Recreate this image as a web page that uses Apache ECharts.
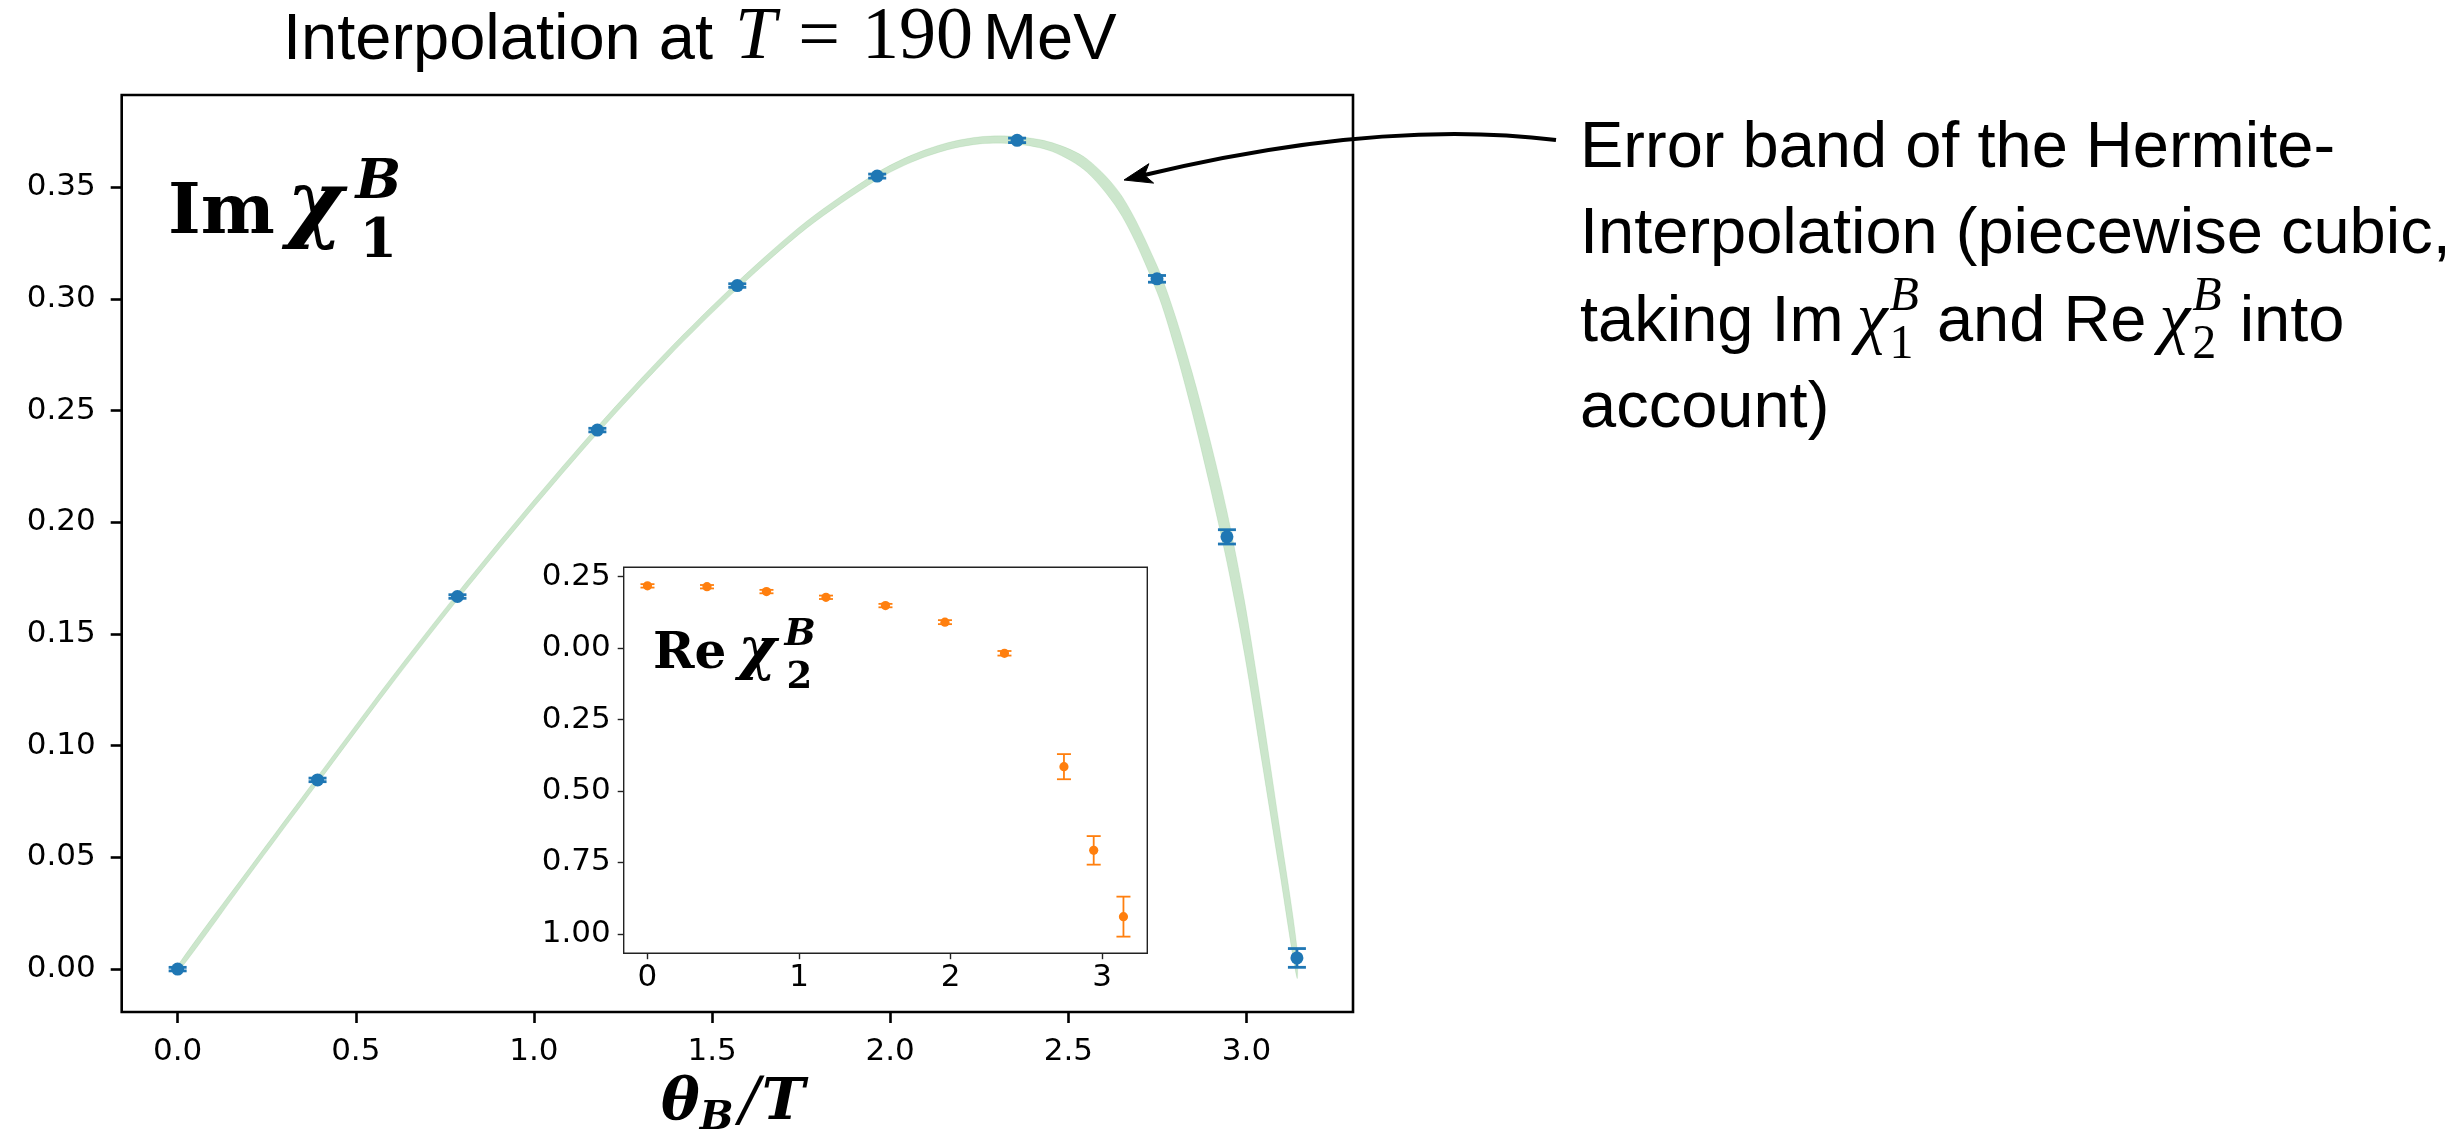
<!DOCTYPE html>
<html><head><meta charset="utf-8">
<script src="https://cdn.jsdelivr.net/npm/echarts@6/dist/echarts.min.js"></script>
<style>html,body{margin:0;padding:0;background:#fff}#c{width:2463px;height:1138px}</style>
</head><body><div id="c"></div>
<script>
// ---- data ----
const thetaPoints = [0, 0.3927, 0.7854, 1.1781, 1.5708, 1.9635, 2.3562, 2.7489, 2.9452, 3.1416];
const imChi1      = [0.000, 0.0847, 0.1668, 0.2413, 0.3060, 0.3550, 0.3710, 0.3090, 0.1935, 0.0050];
const imChi1Err   = [0.0008, 0.0008, 0.0008, 0.0008, 0.0008, 0.0009, 0.0010, 0.0015, 0.0032, 0.0042];
const reChi2      = [0.218, 0.215, 0.198, 0.178, 0.149, 0.091, -0.018, -0.415, -0.708, -0.940];
const reChi2Err   = [0.006, 0.006, 0.006, 0.006, 0.006, 0.007, 0.008, 0.044, 0.050, 0.070];
const bandTheta   = [0, 0.196, 0.3927, 0.589, 0.7854, 0.982, 1.1781, 1.374, 1.5708, 1.767, 1.9635, 2.0617, 2.160, 2.258, 2.3562, 2.4544, 2.5525, 2.6507, 2.7489, 2.798, 2.847, 2.8962, 2.9452, 2.9943, 3.043, 3.0925, 3.1416];
const bandCenter  = [0, 0.0425, 0.0847, 0.1266, 0.1668, 0.2050, 0.2413, 0.2751, 0.3060, 0.3334, 0.3550, 0.3629, 0.3683, 0.3711, 0.3710, 0.3680, 0.3597, 0.3415, 0.3090, 0.2860, 0.2585, 0.2274, 0.1935, 0.1531, 0.1049, 0.0540, 0.0030];
const bandHalf    = [0.0016, 0.0016, 0.0016, 0.0016, 0.0016, 0.0016, 0.0016, 0.0016, 0.0016, 0.0016, 0.0016, 0.0016, 0.0016, 0.0016, 0.0017, 0.0020, 0.0030, 0.0045, 0.0060, 0.0075, 0.0090, 0.0105, 0.0115, 0.0120, 0.0118, 0.0100, 0.0070];
const mainXTicks  = [0, 0.5, 1.0, 1.5, 2.0, 2.5, 3.0];
const mainYTicks  = [0, 0.05, 0.10, 0.15, 0.20, 0.25, 0.30, 0.35];
const insetXTicks = [0, 1, 2, 3];
const insetYTicks = [0.25, 0, -0.25, -0.5, -0.75, -1.0];

// ---- text helpers ----
const mctx = document.createElement('canvas').getContext('2d');
function measure(font, t){ mctx.font = font; return mctx.measureText(t).width; }
function run(x0, base, pieces, align){
  let x = 0, prevStart = 0;
  const placed = [];
  for (const p of pieces){
    const font = (p.style||'normal') + ' ' + (p.weight||'normal') + ' ' + p.size + 'px ' + p.family;
    const wd = measure(font, p.t);
    let px = (p.stack ? prevStart : x) + (p.dx||0);
    placed.push({t:p.t, font:font, px:px, y: base + (p.dy||0) - 0.35*p.size});
    if (p.stack) x = Math.max(x, px + wd); else { prevStart = px; x = px + wd; }
  }
  const off = align === 'center' ? x0 - x/2 : x0;
  return placed.map(q => ({type:'text', z:100, silent:true,
    style:{text:q.t, x:off+q.px, y:q.y, font:q.font, fill:'#000', textAlign:'left', textVerticalAlign:'middle'}}));
}
const SANS = '"Liberation Sans", Arial, sans-serif';
const SERIF = '"Liberation Serif", serif';
const DJS = '"DejaVu Serif", serif';

const texts = [].concat(
  run(283, 64, [
    {t:'Interpolation at ', size:65, family:SANS},
    {t:'T', size:74, family:SERIF, style:'italic', dx:4},
    {t:'=', size:74, family:SERIF, dx:22},
    {t:'190', size:74, family:SERIF, dx:22},
    {t:'MeV', size:65, family:SANS, dx:10}
  ]),
  run(168, 239, [
    {t:'Im', size:70, family:DJS, weight:'bold'},
    {t:'χ', size:86, family:DJS, weight:'bold', style:'italic', dx:12},
    {t:'B', size:54, family:DJS, weight:'bold', style:'italic', dy:-36, dx:12},
    {t:'1', size:54, family:DJS, weight:'bold', dy:23, dx:4, stack:true}
  ]),
  run(653, 673, [
    {t:'Re', size:50, family:DJS, weight:'bold'},
    {t:'χ', size:58, family:DJS, weight:'bold', style:'italic', dx:12},
    {t:'B', size:37, family:DJS, weight:'bold', style:'italic', dy:-25, dx:8},
    {t:'2', size:37, family:DJS, weight:'bold', dy:18, dx:2, stack:true}
  ]),
  run(661, 1124, [
    {t:'θ', size:58, family:DJS, weight:'bold', style:'italic'},
    {t:'B', size:40, family:DJS, weight:'bold', style:'italic', dy:9},
    {t:'/', size:60, family:DJS, style:'italic', dx:6},
    {t:'T', size:58, family:DJS, weight:'bold', style:'italic', dx:2}
  ]),
  run(1580, 172, [{t:'Error band of the Hermite-', size:65, family:SANS}]),
  run(1580, 258, [{t:'Interpolation (piecewise cubic,', size:65, family:SANS}]),
  run(1580, 346, [
    {t:'taking Im', size:65, family:SANS},
    {t:'χ', size:70, family:SERIF, style:'italic', dx:13},
    {t:'B', size:48, family:SERIF, style:'italic', dy:-32, dx:2},
    {t:'1', size:48, family:SERIF, dy:16, stack:true},
    {t:' and Re', size:65, family:SANS, dx:0},
    {t:'χ', size:70, family:SERIF, style:'italic', dx:13},
    {t:'B', size:48, family:SERIF, style:'italic', dy:-32, dx:2},
    {t:'2', size:48, family:SERIF, dy:16, stack:true},
    {t:' into', size:65, family:SANS, dx:0}
  ]),
  run(1580, 432, [{t:'account)', size:65, family:SANS}])
);

// arrow (annotation)
const arrow = [
  {type:'bezierCurve', z:100, silent:true, shape:{x1:1556, y1:140, x2:1140, y2:176, cpx1:1380, cpy1:118},
   style:{stroke:'#000', lineWidth:4, fill:null}},
  {type:'polygon', z:100, silent:true, shape:{points:[[1124,180],[1153.6,183.1],[1144.4,175.1],[1148.9,163.7]]},
   style:{fill:'#000', stroke:'#000', lineWidth:1}}
];

function errItem(color, lw, capHalf, r){
  return function(params, api){
    const x = api.value(0), y = api.value(1), e = api.value(2);
    const pt = api.coord([x, y + e]), pb = api.coord([x, y - e]), pc = api.coord([x, y]);
    const st = {stroke:color, lineWidth:lw};
    return {type:'group', children:[
      {type:'line', shape:{x1:pt[0], y1:pt[1], x2:pb[0], y2:pb[1]}, style:st},
      {type:'line', shape:{x1:pt[0]-capHalf, y1:pt[1], x2:pt[0]+capHalf, y2:pt[1]}, style:st},
      {type:'line', shape:{x1:pb[0]-capHalf, y1:pb[1], x2:pb[0]+capHalf, y2:pb[1]}, style:st},
      {type:'circle', shape:{cx:pc[0], cy:pc[1], r:r}, style:{fill:color}}
    ]};
  };
}
function bandItem(params, api){
  const up = [], lo = [];
  for (let i = 0; i < bandTheta.length; i++){
    up.push(api.coord([bandTheta[i], bandCenter[i] + bandHalf[i]]));
    lo.push(api.coord([bandTheta[i], bandCenter[i] - bandHalf[i]]));
  }
  return {type:'polygon', shape:{points: up.concat(lo.reverse()), smooth:0.3},
          style:{fill:'rgba(0,128,0,0.2)', stroke:'rgba(0,128,0,0.08)', lineWidth:1}};
}

const tickFont = {fontFamily:'"DejaVu Sans", sans-serif', fontSize:31, color:'#000'};
const chart = echarts.init(document.getElementById('c'), null, {renderer:'canvas'});
chart.setOption({
  animation:false,
  backgroundColor:'#fff',
  grid:[
    {left:121.7, top:95, width:1231.3, height:917, show:true, borderColor:'#000', borderWidth:2.6, backgroundColor:'#fff', containLabel:false},
    {left:623.7, top:567.3, width:523.6, height:385.9, show:true, borderColor:'#222', borderWidth:1.4, backgroundColor:'#fff', containLabel:false, z:5}
  ],
  xAxis:[
    {gridIndex:0, type:'value', min:-0.157, max:3.299, splitLine:{show:false},
     axisLine:{show:false, onZero:false},
     axisTick:{show:true, customValues:mainXTicks, length:11, lineStyle:{color:'#000', width:2.6}},
     axisLabel:Object.assign({customValues:mainXTicks, margin:24, formatter:v=>Number(v).toFixed(1)}, tickFont)},
    {gridIndex:1, type:'value', min:-0.157, max:3.299, splitLine:{show:false}, z:6,
     axisLine:{show:false, onZero:false},
     axisTick:{show:true, customValues:insetXTicks, length:6, lineStyle:{color:'#222', width:1.4}},
     axisLabel:Object.assign({customValues:insetXTicks, margin:9, formatter:v=>String(Math.round(v))}, tickFont)}
  ],
  yAxis:[
    {gridIndex:0, type:'value', min:-0.0192, max:0.3913, splitLine:{show:false},
     axisLine:{show:false, onZero:false},
     axisTick:{show:true, customValues:mainYTicks, length:11, lineStyle:{color:'#000', width:2.6}},
     axisLabel:Object.assign({customValues:mainYTicks, margin:26, formatter:v=>Number(v).toFixed(2)}, tickFont)},
    {gridIndex:1, type:'value', min:-1.068, max:0.283, splitLine:{show:false}, z:6,
     axisLine:{show:false, onZero:false},
     axisTick:{show:true, customValues:insetYTicks, length:6, lineStyle:{color:'#222', width:1.4}},
     axisLabel:Object.assign({customValues:insetYTicks, margin:13, formatter:v=>Math.abs(Number(v)).toFixed(2)}, tickFont)}
  ],
  series:[
    {type:'custom', xAxisIndex:0, yAxisIndex:0, z:2, silent:true, renderItem:bandItem,
     encode:{x:0, y:1}, data:[[bandTheta[0], bandCenter[0]]]},
    {type:'custom', xAxisIndex:0, yAxisIndex:0, z:4, silent:true,
     renderItem:errItem('#1f77b4', 2.8, 9, 6.5), encode:{x:0, y:1},
     data:thetaPoints.map((t,i)=>[t, imChi1[i], imChi1Err[i]])},
    {type:'custom', xAxisIndex:1, yAxisIndex:1, z:8, silent:true,
     renderItem:errItem('#ff7f0e', 1.8, 7, 4.6), encode:{x:0, y:1},
     data:thetaPoints.map((t,i)=>[t, reChi2[i], reChi2Err[i]])}
  ],
  graphic:{elements: texts.concat(arrow)}
});
</script></body></html>
